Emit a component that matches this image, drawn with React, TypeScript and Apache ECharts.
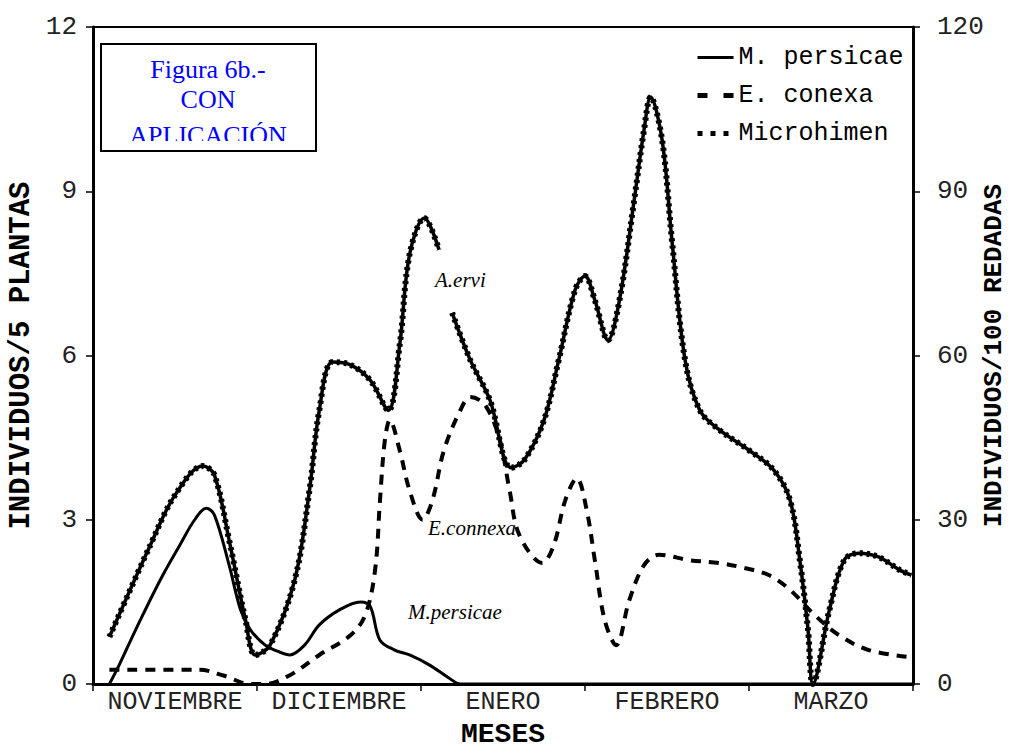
import React, { useEffect, useRef } from "react";
import * as echarts from "echarts";

// x = months elapsed since start of November (0..5)
const months = ["NOVIEMBRE", "DICIEMBRE", "ENERO", "FEBRERO", "MARZO"];

// Microhimen / A. ervi (right axis, individuos/100 redadas)
const microhimen: (number | string)[][] = [
  [0.10, 8.6], [0.35, 25.4], [0.50, 34.5], [0.67, 39.8], [0.74, 38.2], [0.83, 26.3],
  [0.93, 11.7], [0.99, 5.3], [1.08, 7.1], [1.23, 19.0], [1.32, 35.4], [1.38, 50.0],
  [1.46, 58.8], [1.57, 58.3], [1.69, 55.5], [1.80, 50.0], [1.87, 61.9], [1.93, 78.4],
  [2.02, 85.1], [2.11, 79.3], [2.15, "-"], [2.19, 67.8], [2.30, 59.2], [2.42, 51.9],
  [2.55, 39.5], [2.63, 40.9], [2.75, 48.2], [2.84, 59.2], [2.94, 72.0], [3.00, 74.5],
  [3.06, 70.1], [3.14, 62.8], [3.21, 70.1], [3.30, 88.4], [3.36, 101.2], [3.40, 107.2],
  [3.47, 99.4], [3.53, 81.1], [3.61, 59.2], [3.70, 50.0], [3.82, 46.4], [4.00, 42.7],
  [4.15, 39.1], [4.25, 33.6], [4.31, 22.6], [4.36, 9.9], [4.39, 0], [4.49, 13.5],
  [4.58, 22.6], [4.67, 23.9], [4.79, 23.2], [4.92, 20.8], [4.99, 19.9],
];

// E. conexa (left axis, individuos/5 plantas)
const eConexa: number[][] = [
  [0.10, 0.26], [0.65, 0.26], [0.80, 0.15], [0.96, 0.0], [1.05, 0.0], [1.20, 0.16],
  [1.38, 0.53], [1.57, 0.89], [1.66, 1.26], [1.72, 2.08], [1.75, 3.36], [1.78, 4.46],
  [1.81, 4.82], [1.87, 4.27], [1.93, 3.54], [2.01, 3.0], [2.07, 3.36], [2.14, 4.27],
  [2.24, 5.0], [2.30, 5.24], [2.39, 5.10], [2.48, 4.46], [2.54, 3.54], [2.60, 2.72],
  [2.74, 2.21], [2.81, 2.54], [2.88, 3.36], [2.95, 3.76], [3.01, 3.18], [3.06, 2.26],
  [3.12, 1.17], [3.19, 0.71], [3.27, 1.53], [3.36, 2.17], [3.45, 2.36], [3.64, 2.26],
  [3.82, 2.21], [3.97, 2.12], [4.12, 1.99], [4.25, 1.72], [4.40, 1.26], [4.55, 0.89],
  [4.73, 0.62], [4.99, 0.49],
];

// M. persicae (left axis, individuos/5 plantas)
const mPersicae: number[][] = [
  [0.10, 0], [0.16, 0.35], [0.26, 0.99], [0.41, 1.90], [0.53, 2.54], [0.62, 3.0],
  [0.69, 3.21], [0.74, 3.09], [0.83, 2.17], [0.90, 1.35], [0.96, 0.99], [1.05, 0.71],
  [1.14, 0.58], [1.20, 0.53], [1.29, 0.71], [1.38, 1.08], [1.50, 1.35], [1.63, 1.5],
  [1.69, 1.42], [1.75, 0.80], [1.84, 0.62], [1.93, 0.53], [2.05, 0.35], [2.17, 0.11],
  [2.24, 0], [2.50, 0], [3.0, 0], [4.0, 0], [5.0, 0],
];

const MONO = "'Liberation Mono', 'DejaVu Sans Mono', monospace";
const SERIF = "'Liberation Serif', 'DejaVu Serif', serif";

export default function App() {
  const ref = useRef<HTMLDivElement>(null);
  useEffect(() => {
    if (!ref.current) return;
    const chart = echarts.init(ref.current, undefined, { renderer: "svg" });
    const option: any = {
      animation: false,
      backgroundColor: "#ffffff",
      grid: {
        left: 93, right: 97, top: 27, bottom: 67, show: true, containLabel: false,
        outerBoundsMode: "none",
        borderColor: "#000", borderWidth: 2, backgroundColor: "transparent",
      },
      legend: {
        orient: "vertical", left: 690, top: 40, itemWidth: 36, itemHeight: 12, itemGap: 13,
        itemStyle: { opacity: 0 },
        textStyle: { fontFamily: MONO, fontSize: 25, color: "#000" },
        data: [
          { name: "M. persicae", lineStyle: { width: 3, type: "solid" } },
          { name: "E. conexa", lineStyle: { width: 5, type: [10, 16] } },
          { name: "Microhimen", lineStyle: { width: 5, type: [5, 8] } },
        ],
      },
      xAxis: [
        {
          type: "value", min: 0, max: 5, interval: 1,
          name: "MESES", nameLocation: "middle", nameGap: 36, nameMoveOverlap: false,
          nameTextStyle: { fontFamily: MONO, fontSize: 28, fontWeight: "bold", color: "#000" },
          axisLine: { lineStyle: { color: "#000", width: 3 } },
          axisTick: { show: true, inside: false, length: 7, lineStyle: { color: "#000", width: 1.5 } },
          axisLabel: { show: false },
          splitLine: { show: false },
        },
        {
          type: "category", data: months, boundaryGap: true, position: "bottom",
          axisLine: { show: false }, axisTick: { show: false },
          axisLabel: { fontFamily: MONO, fontSize: 25, color: "#222", margin: 6, interval: 0 },
          splitLine: { show: false },
        },
      ],
      yAxis: [
        {
          type: "value", min: 0, max: 12, interval: 3, position: "left",
          name: "INDIVIDUOS/5 PLANTAS", nameLocation: "middle", nameGap: 57, nameRotate: 90,
          nameMoveOverlap: false,
          nameTextStyle: { fontFamily: MONO, fontSize: 29, fontWeight: "bold", color: "#000" },
          axisLine: { show: true, lineStyle: { color: "#000", width: 3 } },
          axisTick: { show: true, length: 7, lineStyle: { color: "#000", width: 1.5 } },
          axisLabel: { fontFamily: MONO, fontSize: 26, color: "#222", margin: 16 },
          splitLine: { show: false },
        },
        {
          type: "value", min: 0, max: 120, interval: 30, position: "right",
          name: "INDIVIDUOS/100 REDADAS", nameLocation: "middle", nameGap: 68, nameRotate: 90,
          nameMoveOverlap: false,
          nameTextStyle: { fontFamily: MONO, fontSize: 26, fontWeight: "bold", color: "#000" },
          axisLine: { show: true, lineStyle: { color: "#000", width: 3 } },
          axisTick: { show: true, length: 7, lineStyle: { color: "#000", width: 1.5 } },
          axisLabel: { fontFamily: MONO, fontSize: 26, color: "#222", margin: 24 },
          splitLine: { show: false },
        },
      ],
      series: [
        {
          name: "E. conexa", type: "line", xAxisIndex: 0, yAxisIndex: 0, data: eConexa,
          smooth: 0.35, symbol: "none", color: "#000",
          lineStyle: { color: "#000", width: 4, type: [10, 8] },
        },
        {
          name: "A. ervi", type: "line", xAxisIndex: 0, yAxisIndex: 1, data: microhimen,
          smooth: 0.35, symbol: "none", color: "#000", connectNulls: false,
          lineStyle: { color: "#000", width: 3.5, type: "solid" },
        },
        {
          name: "Microhimen", type: "line", xAxisIndex: 0, yAxisIndex: 1, data: microhimen,
          smooth: 0.35, symbol: "none", color: "#000", connectNulls: false,
          lineStyle: { color: "#000", width: 6, type: [3, 4] },
        },
        {
          name: "M. persicae", type: "line", xAxisIndex: 0, yAxisIndex: 0, data: mPersicae,
          smooth: 0.35, symbol: "none", color: "#000",
          lineStyle: { color: "#000", width: 3, type: "solid" },
        },
      ],
      graphic: [
        { type: "text", z: 100, style: { x: 208, y: 56, text: "Figura 6b.-", fill: "#0000ff", font: `26px ${SERIF}`, textAlign: "center", textVerticalAlign: "top" } },
        { type: "text", z: 100, style: { x: 208, y: 86, text: "CON", fill: "#0000ff", font: `26px ${SERIF}`, textAlign: "center", textVerticalAlign: "top" } },
        { type: "text", z: 100, style: { x: 208, y: 122, text: "APLICACIÓN", fill: "#0000ff", font: `26px ${SERIF}`, textAlign: "center", textVerticalAlign: "top" } },
        { type: "rect", z: 101, shape: { x: 102, y: 141, width: 213, height: 9 }, style: { fill: "#fff" } },
        { type: "rect", z: 102, shape: { x: 101, y: 44, width: 215, height: 107 }, style: { fill: "none", stroke: "#000", lineWidth: 2 } },
        { type: "text", z: 100, style: { x: 435, y: 280, text: "A.ervi", fill: "#000", font: `italic 21px ${SERIF}`, textVerticalAlign: "middle" } },
        { type: "text", z: 100, style: { x: 428, y: 528, text: "E.connexa", fill: "#000", font: `italic 21px ${SERIF}`, textVerticalAlign: "middle" } },
        { type: "text", z: 100, style: { x: 408, y: 612, text: "M.persicae", fill: "#000", font: `italic 21px ${SERIF}`, textVerticalAlign: "middle" } },
      ],
    };
    chart.setOption(option);
    return () => chart.dispose();
  }, []);
  return <div ref={ref} style={{ position: "fixed", left: 0, top: 0, width: 1010, height: 751 }} />;
}
